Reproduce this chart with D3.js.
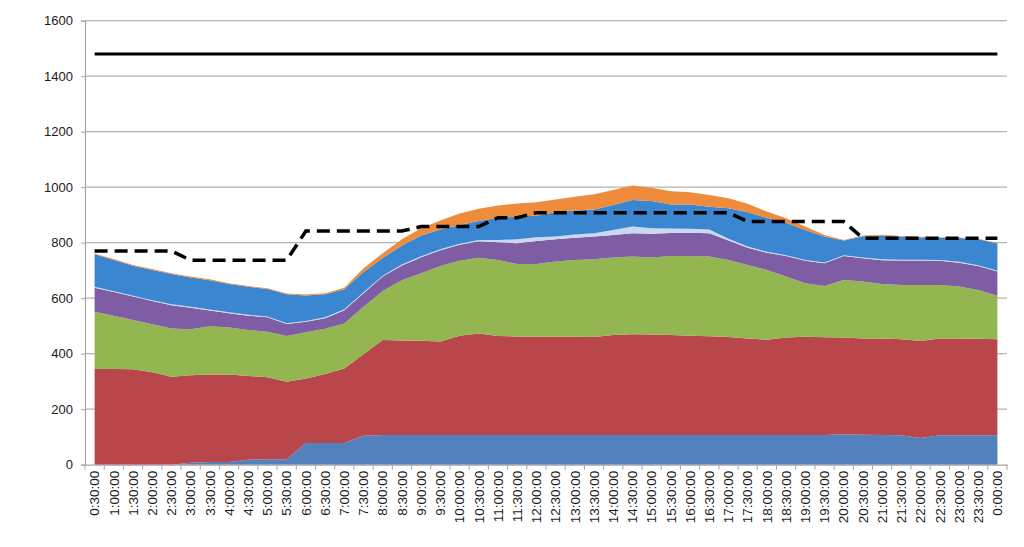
<!DOCTYPE html>
<html>
<head>
<meta charset="utf-8">
<script src="https://cdn.jsdelivr.net/npm/d3@7"></script>
<style>
  html, body { margin: 0; padding: 0; background: #ffffff; }
  svg { display: block; }
  text { font-family: "Liberation Sans", Arial, sans-serif; fill: #1a1a1a; }
</style>
</head>
<body>
<svg id="chart" width="1024" height="547"></svg>
<script>
// ---- data ----
const categories = ["0:30:00","1:00:00","1:30:00","2:00:00","2:30:00","3:00:00","3:30:00","4:00:00","4:30:00","5:00:00",
  "5:30:00","6:00:00","6:30:00","7:00:00","7:30:00","8:00:00","8:30:00","9:00:00","9:30:00","10:00:00",
  "10:30:00","11:00:00","11:30:00","12:00:00","12:30:00","13:00:00","13:30:00","14:00:00","14:30:00","15:00:00",
  "15:30:00","16:00:00","16:30:00","17:00:00","17:30:00","18:00:00","18:30:00","19:00:00","19:30:00","20:00:00",
  "20:30:00","21:00:00","21:30:00","22:00:00","22:30:00","23:00:00","23:30:00","0:00:00"];

const seriesBlue   = [0,0,0,0,0,7,10,10,18,20,20,78,78,78,104,107,107,107,107,107,107,107,107,107,107,107,107,107,107,107,107,107,107,107,107,107,107,107,107,110,108,107,106,96,106,106,106,106];
const seriesRed    = [345,345,344,333,317,315,315,315,302,295,279,233,249,269,294,342,341,340,337,358,366,357,355,354,354,354,353,360,363,362,360,358,356,353,348,343,351,354,352,348,347,348,346,350,349,349,348,346];
const seriesGreen  = [206,192,177,173,174,166,174,169,165,164,165,166,163,162,171,177,217,243,272,270,273,274,261,262,271,277,280,280,280,278,285,287,287,278,265,252,220,193,185,208,205,196,196,202,193,187,176,157];
const seriesPurple = [87,85,85,84,84,78,57,52,52,52,43,38,38,48,49,52,53,58,57,58,59,64,75,83,80,80,82,81,84,85,83,84,84,70,62,62,74,81,82,86,84,86,88,88,87,86,86,87];
const seriesLight  = [3,3,3,3,3,3,3,3,3,3,3,3,3,3,3,3,3,3,3,3,5,8,14,14,10,12,12,18,24,20,16,14,14,6,4,3,3,3,3,3,3,3,3,3,3,3,3,3];
const seriesSky    = [117,113,108,109,109,106,106,102,101,99,104,92,83,72,73,64,69,75,72,68,68,80,82,77,88,86,86,90,96,98,87,88,82,110,124,123,117,108,93,53,76,86,83,80,80,86,93,98];
const seriesOrange = [3,3,3,3,3,3,3,3,3,3,3,3,4,6,14,17,22,26,32,41,44,44,47,49,46,50,55,54,52,48,47,44,42,36,30,22,16,12,6,2,3,3,2,2,2,2,2,2];

const capacityLine = [1480,1480,1480,1480,1480,1480,1480,1480,1480,1480,1480,1480,1480,1480,1480,1480,1480,1480,1480,1480,1480,1480,1480,1480,1480,1480,1480,1480,1480,1480,1480,1480,1480,1480,1480,1480,1480,1480,1480,1480,1480,1480,1480,1480,1480,1480,1480,1480];
const dashedLine   = [770,770,770,770,770,737,737,737,737,737,737,842,842,842,842,842,842,858,858,858,858,890,890,908,908,908,908,908,908,908,908,908,908,908,876,876,876,876,876,876,816,816,816,816,816,816,816,816];

const yTicks = [0,200,400,600,800,1000,1200,1400,1600];

const seriesKeys   = ["blue","red","green","purple","light","sky","orange"];
const seriesColors = ["#5381be","#b9464b","#93b651","#7f5da4","#c9d9f0","#3b86d0","#ee8c3c"];

// ---- build table ----
const table = categories.map((c, i) => ({
  cat: c,
  blue: seriesBlue[i], red: seriesRed[i], green: seriesGreen[i], purple: seriesPurple[i],
  light: seriesLight[i], sky: seriesSky[i], orange: seriesOrange[i]
}));

// ---- layout ----
const svg = d3.select("#chart");
const plotLeft = 85, plotRight = 1007, plotTop = 20.7, plotBottom = 464.7;

const x = d3.scaleBand().domain(categories).range([plotLeft, plotRight]).padding(0);
const cx = c => x(c) + x.bandwidth() / 2;
const y = d3.scaleLinear().domain([0, 1600]).range([plotBottom, plotTop]);

// gridlines
svg.append("g").selectAll("line").data(yTicks.filter(t => t > 0)).join("line")
  .attr("x1", plotLeft).attr("x2", plotRight)
  .attr("y1", d => y(d)).attr("y2", d => y(d))
  .attr("stroke", "#b3b3b3").attr("stroke-width", 1.2);

// stacked areas
const stack = d3.stack().keys(seriesKeys);
const layers = stack(table);
const area = d3.area()
  .x(d => cx(d.data.cat))
  .y0(d => y(d[0]))
  .y1(d => y(d[1]));

svg.append("g").selectAll("path").data(layers).join("path")
  .attr("d", area)
  .attr("fill", (d, i) => seriesColors[i]);

// axes
const yAxis = d3.axisLeft(y).tickValues(yTicks).tickSize(4).tickPadding(8).tickFormat(d3.format("d"));
const gy = svg.append("g").attr("transform", `translate(${plotLeft},0)`).call(yAxis);
gy.select(".domain").attr("stroke", "#a6a6a6").attr("stroke-width", 1.2);
gy.selectAll(".tick line").attr("stroke", "#a6a6a6");
gy.selectAll(".tick text").attr("font-size", 13).attr("fill", "#1a1a1a")
  .style("font-family", "'Liberation Sans', Arial, sans-serif");

const xAxis = d3.axisBottom(x).tickSize(0).tickPadding(0);
const gx = svg.append("g").attr("transform", `translate(0,${plotBottom})`).call(xAxis);
gx.select(".domain").attr("stroke", "#a6a6a6").attr("stroke-width", 1.2);
gx.selectAll(".tick text")
  .attr("font-size", 13.5).attr("fill", "#1a1a1a")
  .style("font-family", "'Liberation Sans', Arial, sans-serif")
  .attr("text-anchor", "end")
  .attr("transform", "rotate(-90)")
  .attr("x", -6).attr("y", 0).attr("dy", "0.35em");

// tick marks at band boundaries
const boundaries = categories.map(c => x(c)).concat([plotRight]);
svg.append("g").selectAll("line").data(boundaries).join("line")
  .attr("x1", d => d).attr("x2", d => d)
  .attr("y1", plotBottom).attr("y2", plotBottom + 5)
  .attr("stroke", "#a6a6a6").attr("stroke-width", 1);

// lines
const line = d3.line().x((d, i) => cx(categories[i])).y(d => y(d));
svg.append("path").datum(capacityLine).attr("d", line)
  .attr("fill", "none").attr("stroke", "#000").attr("stroke-width", 3.2);
svg.append("path").datum(dashedLine).attr("d", line)
  .attr("fill", "none").attr("stroke", "#000").attr("stroke-width", 3.5)
  .attr("stroke-dasharray", "13,7");
</script>
</body>
</html>
